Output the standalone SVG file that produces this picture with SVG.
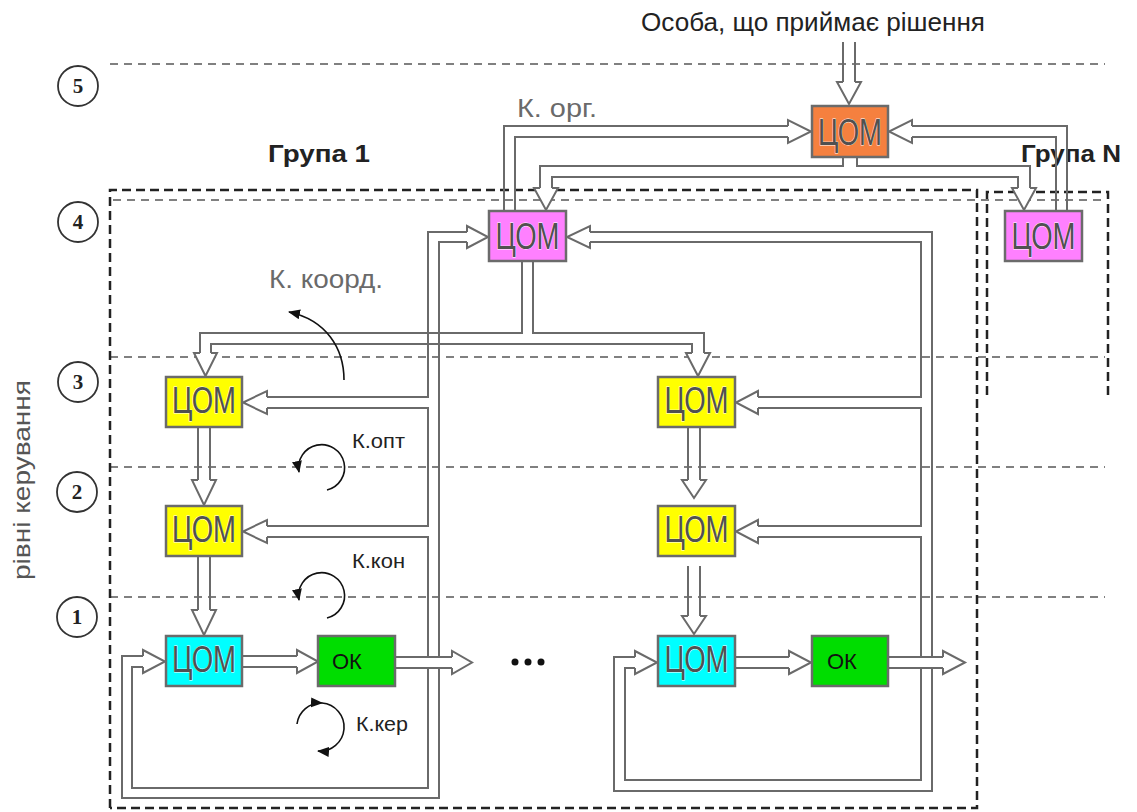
<svg xmlns="http://www.w3.org/2000/svg" width="1137" height="812" viewBox="0 0 1137 812">
<style>
.lvl{stroke:#808080;stroke-width:2;stroke-dasharray:8 6;fill:none}
.grp{stroke:#222;stroke-width:2.5;stroke-dasharray:9 5;fill:none}
.c{stroke:#6a6a6a;stroke-width:2;fill:none}
.ah{stroke:#6a6a6a;stroke-width:2;fill:#fff;stroke-linejoin:miter}
.box{stroke:#6b6b6b;stroke-width:2.5}
.com{font-family:"Liberation Sans",Arial,sans-serif;font-size:36px;fill:#505050;stroke:#fff;stroke-width:0.8;paint-order:stroke;text-anchor:middle}
.ok{font-family:"Liberation Sans",Arial,sans-serif;font-size:22px;fill:#111}
.lab{font-family:"Liberation Sans",Arial,sans-serif;font-size:26px;fill:#6a6a6a}
.sm{font-family:"Liberation Sans",Arial,sans-serif;font-size:20px;fill:#222}
.bold{font-family:"Liberation Sans",Arial,sans-serif;font-size:24px;font-weight:bold;fill:#222}
.num{font-family:"Liberation Serif","Times New Roman",serif;font-size:21px;font-weight:bold;fill:#222;text-anchor:middle}
.circ{stroke:#333;stroke-width:1.8;fill:none}
.curve{stroke:#111;stroke-width:1.6;fill:none;marker-end:url(#blk)}
</style>
<defs>
<marker id="blk" markerUnits="userSpaceOnUse" markerWidth="14" markerHeight="12" refX="11" refY="5" orient="auto">
<path d="M0,0 L12,5 L0,10 z" fill="#111"/>
</marker>
</defs>
<rect width="1137" height="812" fill="#fff"/>

<g id="levels">
<line class="lvl" x1="110" y1="64" x2="1105" y2="64"/>
<line class="lvl" x1="113" y1="200" x2="1105" y2="200"/>
<line class="lvl" x1="110" y1="357" x2="1105" y2="357"/>
<line class="lvl" x1="110" y1="467" x2="1105" y2="467"/>
<line class="lvl" x1="110" y1="597" x2="1105" y2="597"/>
<circle class="circ" cx="78" cy="86" r="20"/><text class="num" x="78" y="93">5</text>
<circle class="circ" cx="78" cy="222" r="20"/><text class="num" x="78" y="229">4</text>
<circle class="circ" cx="78" cy="382" r="20"/><text class="num" x="78" y="389">3</text>
<circle class="circ" cx="77" cy="492" r="20"/><text class="num" x="77" y="499">2</text>
<circle class="circ" cx="77" cy="617" r="20"/><text class="num" x="77" y="624">1</text>
<text x="0" y="0" transform="translate(30,480) rotate(-90)" font-family="Liberation Sans,Arial,sans-serif" font-size="24" fill="#555" text-anchor="middle" textLength="200" lengthAdjust="spacingAndGlyphs">рівні керування</text>
</g>

<g id="groups">
<path class="grp" d="M110,808 V190 H977 V808 H110"/>
<path class="grp" d="M987,395 V192 H1108 V395"/>
<text class="bold" x="268" y="162" textLength="102" lengthAdjust="spacingAndGlyphs">Група 1</text>
<text class="bold" x="1021" y="162" textLength="100" lengthAdjust="spacingAndGlyphs">Група N</text>
</g>

<g id="connectors">
<path class="c" d="M843,42 V82 M855,42 V82"/>
<path class="ah" d="M843,82 H837 L849,104 L861,82 H855"/>
<path class="c" d="M504,211 V126 H788 M515,211 V137 H788"/>
<path class="ah" d="M788,126 V120 L811,131.5 L788,143 V137"/>
<path class="c" d="M1067,211 V126 H912 M1056,211 V137 H912"/>
<path class="ah" d="M912,126 V120 L889,131.5 L912,143 V137"/>
<path class="c" d="M843,157 V166 H540 V188 M857,157 V166 H1030 V188 M552,188 V177 H1018 V188"/>
<path class="ah" d="M540,188 H534 L546,210 L558,188 H552"/>
<path class="ah" d="M1018,188 H1012 L1024,210 L1036,188 H1030"/>
<path class="c" d="M522,261 V333 H200 V353 M533,261 V333 H704 V353 M211,353 V344 H692 V353"/>
<path class="ah" d="M200,353 H194 L205.5,376 L217,353 H211"/>
<path class="ah" d="M692,353 H686 L698,376 L710,353 H704"/>
<path class="c" d="M467,232 H428 V397 H267 M267,408 H428 V526 H267 M267,537 H428 V657 M428,668 V788 H132 V667 H143 M467,242 H439 V657 M439,668 V798 H122 V656 H143 M395,657 H452 M395,668 H452"/>
<path class="ah" d="M467,232 V226 L488,237 L467,248 V242"/>
<path class="ah" d="M267,397 V391 L243,402.5 L267,414 V408"/>
<path class="ah" d="M267,526 V520 L243,531.5 L267,543 V537"/>
<path class="ah" d="M143,656 V650 L165,661.5 L143,673 V667"/>
<path class="ah" d="M452,657 V651 L472,662.5 L452,674 V668"/>
<path class="c" d="M590,232 H932 V657 M590,242 H921 V397 H758 M758,408 H921 V526 H758 M758,537 H921 V657 M921,668 V780 H625 V668 H635 M932,668 V791 H614 V657 H635 M888,657 H943 M888,668 H943"/>
<path class="ah" d="M590,232 V226 L567,237 L590,248 V242"/>
<path class="ah" d="M758,397 V391 L736,402.5 L758,414 V408"/>
<path class="ah" d="M758,526 V520 L736,531.5 L758,543 V537"/>
<path class="ah" d="M635,657 V651 L657,662.5 L635,674 V668"/>
<path class="ah" d="M943,657 V651 L965,662.5 L943,674 V668"/>
<path class="c" d="M198,427 V480 M210,427 V480 M198,556 V610 M210,556 V610 M688,428 V480 M700,428 V480 M688,566 V616 M700,566 V616"/>
<path class="ah" d="M198,480 H192 L204,505 L216,480 H210"/>
<path class="ah" d="M198,610 H192 L204,635 L216,610 H210"/>
<path class="ah" d="M688,480 H682 L694,498 L706,480 H700"/>
<path class="ah" d="M688,616 H682 L694,634 L706,616 H700"/>
<path class="c" d="M242,656 H297 M242,667 H297 M735,657 H789 M735,668 H789"/>
<path class="ah" d="M297,656 V650 L318,661.5 L297,673 V667"/>
<path class="ah" d="M789,657 V651 L811,662.5 L789,674 V668"/>
<path class="curve" d="M344,380 C344,348 326,320 289,312"/>
<path class="curve" d="M327,490 A23,23 0 1 0 299,472"/>
<path class="curve" d="M327,618 A23,23 0 1 0 299,600"/>
<path class="curve" d="M297,724 A24,24 0 0 1 322,703"/>
<path class="curve" d="M322,703 A24,24 0 0 1 318,751"/>
</g>

<g id="labels">
<text x="813" y="31" font-family="Liberation Sans,Arial,sans-serif" font-size="25" fill="#222" text-anchor="middle" textLength="344" lengthAdjust="spacingAndGlyphs">Особа, що приймає рішення</text>
<text class="lab" x="517" y="117" textLength="80" lengthAdjust="spacingAndGlyphs">К. орг.</text>
<text class="lab" x="269" y="288" textLength="114" lengthAdjust="spacingAndGlyphs">К. коорд.</text>
<text class="sm" x="352" y="448" textLength="53" lengthAdjust="spacingAndGlyphs">К.опт</text>
<text class="sm" x="352" y="568" textLength="53" lengthAdjust="spacingAndGlyphs">К.кон</text>
<text class="sm" x="356" y="731" textLength="52" lengthAdjust="spacingAndGlyphs">К.кер</text>
<circle cx="515" cy="662" r="3.5" fill="#111"/>
<circle cx="528" cy="662" r="3.5" fill="#111"/>
<circle cx="541" cy="662" r="3.5" fill="#111"/>
</g>

<g id="node-top">
<rect class="box" x="812" y="106" width="76" height="51" fill="#F5803F"/>
<text class="com" x="850" y="145" textLength="64" lengthAdjust="spacingAndGlyphs">ЦОМ</text>
</g>
<g id="node-g1-l4">
<rect class="box" x="489" y="211" width="77" height="50" fill="#FF80FF"/>
<text class="com" x="527.5" y="249" textLength="64" lengthAdjust="spacingAndGlyphs">ЦОМ</text>
</g>
<g id="node-gN-l4">
<rect class="box" x="1005" y="211" width="77" height="50" fill="#FF80FF"/>
<text class="com" x="1043.5" y="249" textLength="64" lengthAdjust="spacingAndGlyphs">ЦОМ</text>
</g>
<g id="node-l3-a">
<rect class="box" x="166" y="377" width="76" height="50" fill="#FFFF00"/>
<text class="com" x="204" y="413" textLength="64" lengthAdjust="spacingAndGlyphs">ЦОМ</text>
</g>
<g id="node-l2-a">
<rect class="box" x="166" y="506" width="76" height="50" fill="#FFFF00"/>
<text class="com" x="204" y="542" textLength="64" lengthAdjust="spacingAndGlyphs">ЦОМ</text>
</g>
<g id="node-l1-a">
<rect class="box" x="166" y="636" width="76" height="50" fill="#00FFFF"/>
<text class="com" x="204" y="672" textLength="64" lengthAdjust="spacingAndGlyphs">ЦОМ</text>
</g>
<g id="node-ok-a">
<rect class="box" x="318" y="636" width="77" height="50" fill="#00DD00"/>
<text class="ok" x="332" y="669">ОК</text>
</g>
<g id="node-l3-b">
<rect class="box" x="658" y="377" width="77" height="50" fill="#FFFF00"/>
<text class="com" x="696.5" y="413" textLength="64" lengthAdjust="spacingAndGlyphs">ЦОМ</text>
</g>
<g id="node-l2-b">
<rect class="box" x="658" y="506" width="77" height="50" fill="#FFFF00"/>
<text class="com" x="696.5" y="542" textLength="64" lengthAdjust="spacingAndGlyphs">ЦОМ</text>
</g>
<g id="node-l1-b">
<rect class="box" x="658" y="636" width="77" height="50" fill="#00FFFF"/>
<text class="com" x="696.5" y="672" textLength="64" lengthAdjust="spacingAndGlyphs">ЦОМ</text>
</g>
<g id="node-ok-b">
<rect class="box" x="812" y="636" width="76" height="50" fill="#00DD00"/>
<text class="ok" x="827" y="669">ОК</text>
</g>
</svg>
